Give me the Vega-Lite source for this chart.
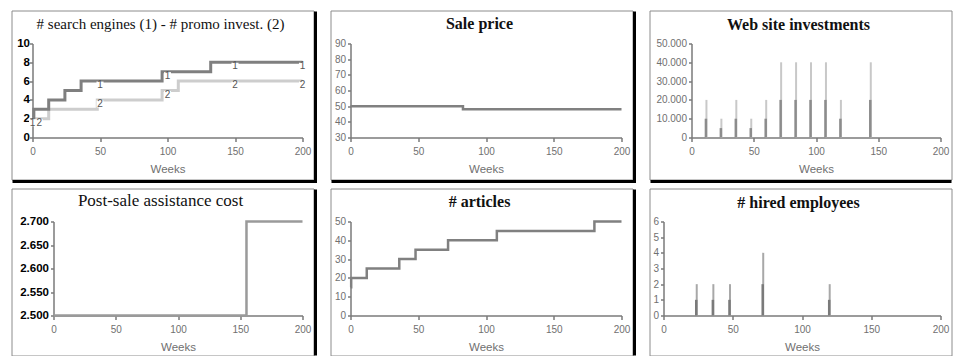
{
  "$schema": "https://vega.github.io/schema/vega-lite/v6.json",
  "padding": {"left": 10.5, "top": 9.5, "right": 0, "bottom": 0},
  "bounds": "flush",
  "columns": 3,
  "spacing": {"row": 9, "column": 17},
  "datasets": {
    "frame": [{"f": 1}],
    "p1": [
      {"s": "2", "t": 0, "v": 2}, {"s": "2", "t": 12, "v": 3}, {"s": "2", "t": 48, "v": 4}, {"s": "2", "t": 96, "v": 5}, {"s": "2", "t": 108, "v": 6}, {"s": "2", "t": 200, "v": 6},
      {"s": "1", "t": 0, "v": 2}, {"s": "1", "t": 1, "v": 3}, {"s": "1", "t": 12, "v": 4}, {"s": "1", "t": 24, "v": 5}, {"s": "1", "t": 36, "v": 6}, {"s": "1", "t": 96, "v": 7}, {"s": "1", "t": 132, "v": 8}, {"s": "1", "t": 200, "v": 8}
    ],
    "p1lab": [
      {"s": "1", "t": 0, "v": 2}, {"s": "1", "t": 50, "v": 6}, {"s": "1", "t": 100, "v": 7}, {"s": "1", "t": 150, "v": 8}, {"s": "1", "t": 200, "v": 8},
      {"s": "2", "t": 5, "v": 2}, {"s": "2", "t": 50, "v": 4}, {"s": "2", "t": 100, "v": 5}, {"s": "2", "t": 150, "v": 6}, {"s": "2", "t": 200, "v": 6}
    ],
    "p2": [{"t": 0, "v": 50}, {"t": 83, "v": 48}, {"t": 200, "v": 48}],
    "p3": [
      {"t": 12, "hi": 20000, "lo": 10000}, {"t": 24, "hi": 10000, "lo": 5000}, {"t": 36, "hi": 20000, "lo": 10000},
      {"t": 48, "hi": 10000, "lo": 5000}, {"t": 60, "hi": 20000, "lo": 10000}, {"t": 72, "hi": 40000, "lo": 20000},
      {"t": 84, "hi": 40000, "lo": 20000}, {"t": 96, "hi": 40000, "lo": 20000}, {"t": 108, "hi": 40000, "lo": 20000},
      {"t": 120, "hi": 20000, "lo": 10000}, {"t": 144, "hi": 40000, "lo": 20000}
    ],
    "p4": [{"t": 0, "v": 2500}, {"t": 155, "v": 2700}, {"t": 200, "v": 2700}],
    "p5": [{"t": 0, "v": 15}, {"t": 0.5, "v": 20}, {"t": 12, "v": 25}, {"t": 36, "v": 30}, {"t": 48, "v": 35}, {"t": 72, "v": 40}, {"t": 108, "v": 45}, {"t": 180, "v": 50}, {"t": 200, "v": 50}],
    "p6": [
      {"t": 24, "hi": 2, "lo": 1}, {"t": 36, "hi": 2, "lo": 1}, {"t": 48, "hi": 2, "lo": 1}, {"t": 72, "hi": 4, "lo": 2}, {"t": 120, "hi": 2, "lo": 1}
    ]
  },
  "config": {
    "view": {"stroke": "#8c8c8c", "strokeWidth": 1},
    "font": "Liberation Sans",
    "title": {"font": "Liberation Serif", "fontSize": 16, "fontWeight": "bold", "color": "#111111", "anchor": "middle", "frame": "group", "offset": -22, "baseline": "alphabetic", "dx": -2},
    "axis": {"grid": false, "domainColor": "#7a7a7a", "domainWidth": 1.5, "tickColor": "#7a7a7a", "tickWidth": 1.5, "tickSize": 3, "labelFont": "Liberation Sans", "labelFontSize": 10, "labelColor": "#707070", "labelPadding": 2, "labelFlush": false, "labelOverlap": false, "titleFont": "Liberation Sans", "titleFontSize": 11.5, "titleFontWeight": "normal", "titleColor": "#707070", "titlePadding": 7},
    "axisX": {"tickSize": 4, "labelPadding": 5}
  },
  "concat": [
    {
      "width": 302, "height": 169,
      "title": {"text": "# search engines (1) - # promo invest. (2)", "fontSize": 15, "fontWeight": "normal"},
      "layer": [
        {
          "data": {"name": "p1"},
          "mark": {"type": "line", "interpolate": "step-after", "strokeWidth": 3},
          "encoding": {
            "x": {"field": "t", "type": "quantitative", "scale": {"domain": [0, 200], "range": [21, 291], "nice": false, "zero": false}, "axis": {"values": [0, 50, 100, 150, 200], "offset": -42, "title": "Weeks", "labelOverlap": false}},
            "y": {"field": "v", "type": "quantitative", "scale": {"domain": [0, 10], "range": [127, 33], "nice": false}, "axis": {"values": [0, 2, 4, 6, 8, 10], "offset": -21, "title": null, "labelFontWeight": "bold", "labelColor": "#000000", "labelFontSize": 11.5, "labelPadding": 0, "labelOverlap": false}},
            "color": {"field": "s", "type": "nominal", "scale": {"domain": ["1", "2"], "range": ["#7f7f7f", "#cdcdcd"]}, "legend": null}
          }
        },
        {
          "data": {"name": "p1lab"},
          "mark": {"type": "point", "shape": "square", "filled": true, "fill": "#ffffff", "stroke": null, "opacity": 1, "size": 50, "yOffset": 4},
          "encoding": {
            "x": {"field": "t", "type": "quantitative", "axis": {"values": [0, 50, 100, 150, 200], "offset": -42, "title": "Weeks", "labelOverlap": false}},
            "y": {"field": "v", "type": "quantitative", "axis": {"values": [0, 2, 4, 6, 8, 10], "offset": -21, "title": null, "labelFontWeight": "bold", "labelColor": "#000000", "labelFontSize": 11.5, "labelPadding": 0, "labelOverlap": false}}
          }
        },
        {
          "data": {"name": "p1lab"},
          "mark": {"type": "text", "baseline": "top", "dy": -1, "fontSize": 10, "fill": "#555555"},
          "encoding": {
            "x": {"field": "t", "type": "quantitative", "axis": {"values": [0, 50, 100, 150, 200], "offset": -42, "title": "Weeks", "labelOverlap": false}},
            "y": {"field": "v", "type": "quantitative", "axis": {"values": [0, 2, 4, 6, 8, 10], "offset": -21, "title": null, "labelFontWeight": "bold", "labelColor": "#000000", "labelFontSize": 11.5, "labelPadding": 0, "labelOverlap": false}},
            "text": {"field": "s"}
          }
        },
        {"data": {"name": "frame"}, "mark": {"type": "rule", "color": "#000000", "strokeWidth": 3, "xOffset": 2, "yOffset": 1, "y2Offset": 3.5}, "encoding": {"x": {"value": "width"}, "y": {"value": 0}, "y2": {"value": "height"}}},
        {"data": {"name": "frame"}, "mark": {"type": "rule", "color": "#000000", "strokeWidth": 3, "yOffset": 2, "xOffset": 1, "x2Offset": 3.5}, "encoding": {"x": {"value": 0}, "x2": {"value": "width"}, "y": {"value": "height"}}}
      ]
    },
    {
      "width": 302, "height": 169,
      "title": {"text": "Sale price"},
      "layer": [
        {
          "data": {"name": "p2"},
          "mark": {"type": "line", "interpolate": "step-after", "strokeWidth": 2.5, "color": "#808080"},
          "encoding": {
            "x": {"field": "t", "type": "quantitative", "scale": {"domain": [0, 200], "range": [20, 291], "nice": false, "zero": false}, "axis": {"values": [0, 50, 100, 150, 200], "offset": -42, "title": "Weeks"}},
            "y": {"field": "v", "type": "quantitative", "scale": {"domain": [30, 90], "range": [127, 33], "nice": false, "zero": false}, "axis": {"values": [30, 40, 50, 60, 70, 80, 90], "offset": -20, "title": null}}
          }
        },
        {"data": {"name": "frame"}, "mark": {"type": "rule", "color": "#000000", "strokeWidth": 3, "xOffset": 2, "yOffset": 1, "y2Offset": 3.5}, "encoding": {"x": {"value": "width"}, "y": {"value": 0}, "y2": {"value": "height"}}},
        {"data": {"name": "frame"}, "mark": {"type": "rule", "color": "#000000", "strokeWidth": 3, "yOffset": 2, "xOffset": 1, "x2Offset": 3.5}, "encoding": {"x": {"value": 0}, "x2": {"value": "width"}, "y": {"value": "height"}}}
      ]
    },
    {
      "width": 302, "height": 169,
      "title": {"text": "Web site investments"},
      "layer": [
        {
          "data": {"name": "p3"},
          "mark": {"type": "rule", "strokeWidth": 2, "color": "#c8c8c8"},
          "encoding": {
            "x": {"field": "t", "type": "quantitative", "scale": {"domain": [0, 200], "range": [42, 291], "nice": false, "zero": false}, "axis": {"values": [0, 50, 100, 150, 200], "offset": -42, "title": "Weeks", "labelOverlap": false}},
            "y": {"field": "hi", "type": "quantitative", "scale": {"domain": [0, 50000], "range": [127, 33], "nice": false}, "axis": {"values": [0, 10000, 20000, 30000, 40000, 50000], "offset": -42, "title": null, "labelOverlap": false, "labelExpr": "replace(format(datum.value, ','), ',', '.')"}},
            "y2": {"datum": 0}
          }
        },
        {
          "data": {"name": "p3"},
          "mark": {"type": "rule", "strokeWidth": 2.5, "color": "#8c8c8c", "xOffset": -0.5},
          "encoding": {
            "x": {"field": "t", "type": "quantitative", "axis": {"values": [0, 50, 100, 150, 200], "offset": -42, "title": "Weeks", "labelOverlap": false}},
            "y": {"field": "lo", "type": "quantitative", "axis": {"values": [0, 10000, 20000, 30000, 40000, 50000], "offset": -42, "title": null, "labelOverlap": false, "labelExpr": "replace(format(datum.value, ','), ',', '.')"}},
            "y2": {"datum": 0}
          }
        },
        {"data": {"name": "frame"}, "mark": {"type": "rule", "color": "#000000", "strokeWidth": 3, "yOffset": 2, "xOffset": 1}, "encoding": {"x": {"value": 0}, "x2": {"value": "width"}, "y": {"value": "height"}}}
      ]
    },
    {
      "width": 302, "height": 167,
      "title": {"text": "Post-sale assistance cost", "fontSize": 17, "fontWeight": "normal"},
      "layer": [
        {
          "data": {"name": "p4"},
          "mark": {"type": "line", "interpolate": "step-after", "strokeWidth": 2.5, "color": "#9a9a9a"},
          "encoding": {
            "x": {"field": "t", "type": "quantitative", "scale": {"domain": [0, 200], "range": [42, 291], "nice": false, "zero": false}, "axis": {"values": [0, 50, 100, 150, 200], "offset": -40, "title": "Weeks"}},
            "y": {"field": "v", "type": "quantitative", "scale": {"domain": [2500, 2700], "range": [127, 33], "nice": false, "zero": false}, "axis": {"values": [2500, 2550, 2600, 2650, 2700], "offset": -42, "title": null, "labelFontWeight": "bold", "labelColor": "#000000", "labelFontSize": 11.5, "labelExpr": "replace(format(datum.value, ','), ',', '.')"}}
          }
        },
        {"data": {"name": "frame"}, "mark": {"type": "rule", "color": "#000000", "strokeWidth": 3, "xOffset": 2, "yOffset": 1}, "encoding": {"x": {"value": "width"}, "y": {"value": 0}, "y2": {"value": "height"}}}
      ]
    },
    {
      "width": 302, "height": 167,
      "title": {"text": "# articles"},
      "layer": [
        {
          "data": {"name": "p5"},
          "mark": {"type": "line", "interpolate": "step-after", "strokeWidth": 2.5, "color": "#808080"},
          "encoding": {
            "x": {"field": "t", "type": "quantitative", "scale": {"domain": [0, 200], "range": [20, 291], "nice": false, "zero": false}, "axis": {"values": [0, 50, 100, 150, 200], "offset": -40, "title": "Weeks"}},
            "y": {"field": "v", "type": "quantitative", "scale": {"domain": [0, 50], "range": [127, 33], "nice": false}, "axis": {"values": [0, 10, 20, 30, 40, 50], "offset": -20, "title": null}}
          }
        },
        {"data": {"name": "frame"}, "mark": {"type": "rule", "color": "#000000", "strokeWidth": 3, "xOffset": 2, "yOffset": 1}, "encoding": {"x": {"value": "width"}, "y": {"value": 0}, "y2": {"value": "height"}}}
      ]
    },
    {
      "width": 302, "height": 167,
      "title": {"text": "# hired employees"},
      "layer": [
        {
          "data": {"name": "p6"},
          "mark": {"type": "rule", "strokeWidth": 2, "color": "#a8a8a8"},
          "encoding": {
            "x": {"field": "t", "type": "quantitative", "scale": {"domain": [0, 200], "range": [14, 291], "nice": false, "zero": false}, "axis": {"values": [0, 50, 100, 150, 200], "offset": -40, "title": "Weeks", "labelOverlap": false}},
            "y": {"field": "hi", "type": "quantitative", "scale": {"domain": [0, 6], "range": [127, 33], "nice": false}, "axis": {"values": [0, 1, 2, 3, 4, 5, 6], "offset": -14, "title": null, "labelOverlap": false}},
            "y2": {"datum": 0}
          }
        },
        {
          "data": {"name": "p6"},
          "mark": {"type": "rule", "strokeWidth": 2.5, "color": "#7a7a7a", "xOffset": -0.5},
          "encoding": {
            "x": {"field": "t", "type": "quantitative", "axis": {"values": [0, 50, 100, 150, 200], "offset": -40, "title": "Weeks", "labelOverlap": false}},
            "y": {"field": "lo", "type": "quantitative", "axis": {"values": [0, 1, 2, 3, 4, 5, 6], "offset": -14, "title": null, "labelOverlap": false}},
            "y2": {"datum": 0}
          }
        }
      ]
    }
  ]
}
